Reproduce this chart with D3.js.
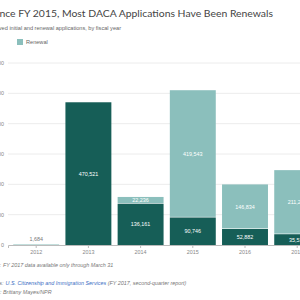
<!DOCTYPE html>
<html>
<head>
<meta charset="utf-8">
<script src="https://cdn.jsdelivr.net/npm/d3@7"></script>
<style>
  body { margin: 0; background: #fff; overflow: hidden; }
  svg text { font-family: "Liberation Sans", Arial, sans-serif; }
</style>
</head>
<body>
<svg id="chart" width="300" height="300"></svg>
<script>
const years = ['2012', '2013', '2014', '2015', '2016', '2017'];
const initial = [1684, 470521, 136161, 90746, 52882, 35539];
const renewal = [0, 0, 22236, 419543, 146834, 211264];
const yTicks = [0, 100000, 200000, 300000, 400000, 500000, 600000];

const INITIAL_COLOR = '#165e57';
const RENEWAL_COLOR = '#8bbfbc';

const svg = d3.select('#chart');
const fmt = d3.format(',');

const base = 245;
const x = d3.scaleBand().domain(years).range([8, 325.4]).paddingInner(0.12).paddingOuter(0.1);
const y = d3.scaleLinear().domain([0, 600000]).range([base, 63]);

// title block (cropped on the left)
svg.append('text').attr('x', 273).attr('y', 17).attr('text-anchor', 'end')
  .style('font-family', 'Lato, sans-serif').attr('font-size', 10.4).attr('fill', '#444')
  .text('Since FY 2015, Most DACA Applications Have Been Renewals');
svg.append('text').attr('x', 121).attr('y', 30).attr('text-anchor', 'end')
  .attr('font-size', 5.6).attr('fill', '#666')
  .text('Number of approved initial and renewal applications, by fiscal year');

// legend
const legend = [{ name: 'Initial', color: INITIAL_COLOR, x: -30 }, { name: 'Renewal', color: RENEWAL_COLOR, x: 17 }];
legend.forEach(l => {
  svg.append('rect').attr('x', l.x).attr('y', 39).attr('width', 6).attr('height', 6).attr('fill', l.color);
  svg.append('text').attr('x', l.x + 9).attr('y', 44).attr('font-size', 5.6).attr('fill', '#666').text(l.name);
});

// grid + y labels
svg.append('g').selectAll('line').data(yTicks.slice(1)).join('line')
  .attr('x1', 8).attr('x2', 300).attr('y1', d => y(d)).attr('y2', d => y(d))
  .attr('stroke', '#ececec').attr('stroke-width', 1);
svg.append('g').selectAll('text').data(yTicks).join('text')
  .attr('x', 4).attr('y', d => y(d) + 2).attr('text-anchor', 'end')
  .attr('font-size', 5.4).attr('fill', '#888').text(d => fmt(d));

// bars
const rows = years.map((yr, i) => ({ yr, ini: initial[i], ren: renewal[i] }));
const g = svg.append('g');
rows.forEach(r => {
  g.append('rect').attr('x', x(r.yr)).attr('width', x.bandwidth())
    .attr('y', y(r.ini)).attr('height', Math.max(base - y(r.ini), 0.8))
    .attr('fill', r.yr === '2012' ? RENEWAL_COLOR : INITIAL_COLOR);
  if (r.ren > 0) {
    g.append('rect').attr('x', x(r.yr)).attr('width', x.bandwidth())
      .attr('y', y(r.ini + r.ren)).attr('height', y(r.ini) - y(r.ini + r.ren) - 0.6)
      .attr('fill', RENEWAL_COLOR);
  }
  const cx = x(r.yr) + x.bandwidth() / 2;
  if (r.yr === '2012') {
    g.append('text').attr('x', cx).attr('y', y(r.ini) - 3).attr('text-anchor', 'middle')
      .attr('font-size', 5.4).attr('fill', '#777').text(fmt(r.ini));
  } else {
    g.append('text').attr('x', cx).attr('y', (y(r.ini) + base) / 2 + 2).attr('text-anchor', 'middle')
      .attr('font-size', 5.4).attr('fill', '#fff').text(fmt(r.ini));
    if (r.ren > 0) {
      g.append('text').attr('x', cx).attr('y', (y(r.ini) + y(r.ini + r.ren)) / 2 + 2).attr('text-anchor', 'middle')
        .attr('font-size', 5.4).attr('fill', '#fff').text(fmt(r.ren));
    }
  }
});

// x axis
const xAxis = svg.append('g').attr('transform', `translate(0,${base})`)
  .call(d3.axisBottom(x).tickSize(3).tickPadding(2).tickSizeOuter(3));
xAxis.select('.domain').attr('stroke', '#bbb');
xAxis.selectAll('line').attr('stroke', '#bbb');
xAxis.selectAll('text').attr('font-size', 5.4).attr('fill', '#888');

// notes
svg.append('text').attr('x', 1).attr('y', 267).attr('text-anchor', 'end').attr('font-size', 5.4)
  .attr('fill', '#777').style('font-style', 'italic').text('Note:');
svg.append('text').attr('x', 3).attr('y', 267).attr('font-size', 5.4)
  .attr('fill', '#777').style('font-style', 'italic').text('FY 2017 data available only through March 31');

svg.append('text').attr('x', 3.5).attr('y', 285).attr('text-anchor', 'end').attr('font-size', 5.4)
  .attr('fill', '#777').style('font-style', 'italic').text('Sources:');
const src = svg.append('text').attr('x', 5.5).attr('y', 285).attr('font-size', 5.4).style('font-style', 'italic');
src.append('tspan').attr('fill', '#3d6fc4').text('U.S. Citizenship and Immigration Services');
src.append('tspan').attr('fill', '#777').text(' (FY 2017, second-quarter report)');

svg.append('text').attr('x', 1.5).attr('y', 294).attr('text-anchor', 'end').attr('font-size', 5.4)
  .attr('fill', '#777').style('font-style', 'italic').text('Credit:');
svg.append('text').attr('x', 3).attr('y', 294).attr('font-size', 5.4)
  .attr('fill', '#777').style('font-style', 'italic').text('Brittany Mayes/NPR');
</script>
</body>
</html>
